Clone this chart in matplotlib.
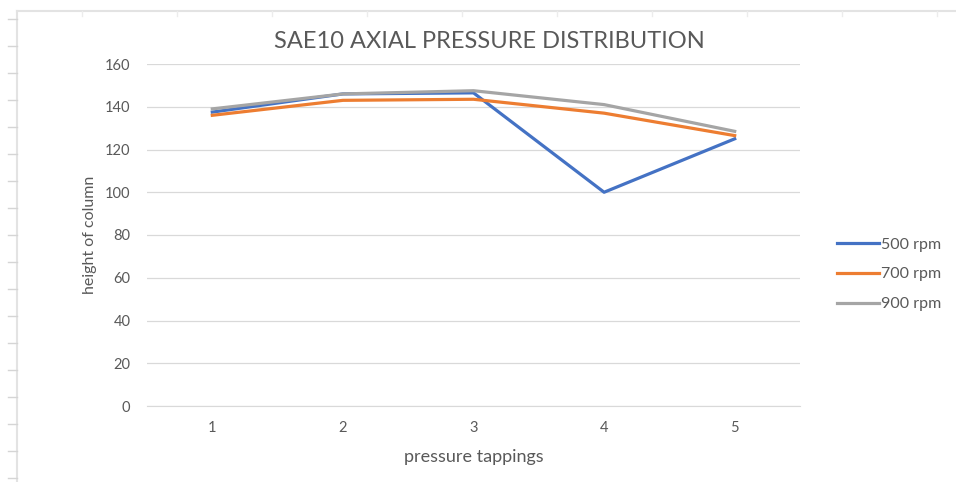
import matplotlib
matplotlib.use("Agg")
import matplotlib.pyplot as plt
from matplotlib.lines import Line2D

# pressure readings (height of column) at each tapping
tappings = [1, 2, 3, 4, 5]
rpm_500 = [137.5, 146, 146.5, 100, 125]
rpm_700 = [136, 143, 143.5, 137, 126.5]
rpm_900 = [139, 146, 147.5, 141, 128.5]
series_labels = ["500 rpm", "700 rpm", "900 rpm"]
y_ticks = [0, 20, 40, 60, 80, 100, 120, 140, 160]

colors = ["#4472C4", "#ED7D31", "#A5A5A5"]
text_color = "#595959"
plt.rcParams["font.family"] = ["Lato", "DejaVu Sans"]

W, H = 956, 482
fig = plt.figure(figsize=(W / 100, H / 100), dpi=100)
fig.patch.set_facecolor("white")

# spreadsheet cell borders behind the chart
sheet = "#E3E3E3"
fig.add_artist(Line2D([17 / W, 1], [1 - 11 / H] * 2, color=sheet, lw=1.5))
fig.add_artist(Line2D([17 / W] * 2, [0, 1 - 11 / H], color=sheet, lw=1.5))
for r in range(18):
    y = 1 - (19 + 27 * r) / H
    fig.add_artist(Line2D([8 / W, 17 / W], [y, y], color="#D5D5D5", lw=1))
for c in range(10):
    x = (82 + 95 * c) / W
    fig.add_artist(Line2D([x, x], [1 - 11 / H, 1 - 16 / H], color="#ECECEC", lw=1))

ax = fig.add_axes([147 / W, (H - 406) / H, (800 - 147) / W, 342 / H])
for vals, lab, col in zip([rpm_500, rpm_700, rpm_900], series_labels, colors):
    ax.plot(tappings, vals, color=col, lw=2.3, label=lab, solid_joinstyle="round")

ax.set_xlim(0.5, 5.5)
ax.set_ylim(0, 160)
ax.set_yticks(y_ticks)
ax.set_xticks(tappings)
ax.grid(axis="y", color="#D9D9D9", lw=0.9)
ax.set_axisbelow(True)
for s in ax.spines.values():
    s.set_visible(False)
ax.spines["bottom"].set_visible(True)
ax.spines["bottom"].set_color("#D9D9D9")
ax.tick_params(length=0, colors=text_color, labelsize=10.5)
ax.tick_params(axis="y", pad=12)
ax.tick_params(axis="x", pad=11)

ax.set_xlabel("pressure tappings", color=text_color, fontsize=13, labelpad=10)
ax.set_ylabel("height of column", color=text_color, fontsize=11.5, labelpad=6)
fig.text(489 / W, 1 - 42 / H, "SAE10 AXIAL PRESSURE DISTRIBUTION", ha="center",
         va="center", color=text_color, fontsize=17)

leg = ax.legend(loc="center left", bbox_to_anchor=(1.057, 0.385), frameon=False,
                fontsize=11.5, handlelength=2.6, handletextpad=0.12, labelspacing=0.97,
                borderpad=0, borderaxespad=0, labelcolor=text_color)

fig.savefig("out.png", dpi=100, facecolor="white")
